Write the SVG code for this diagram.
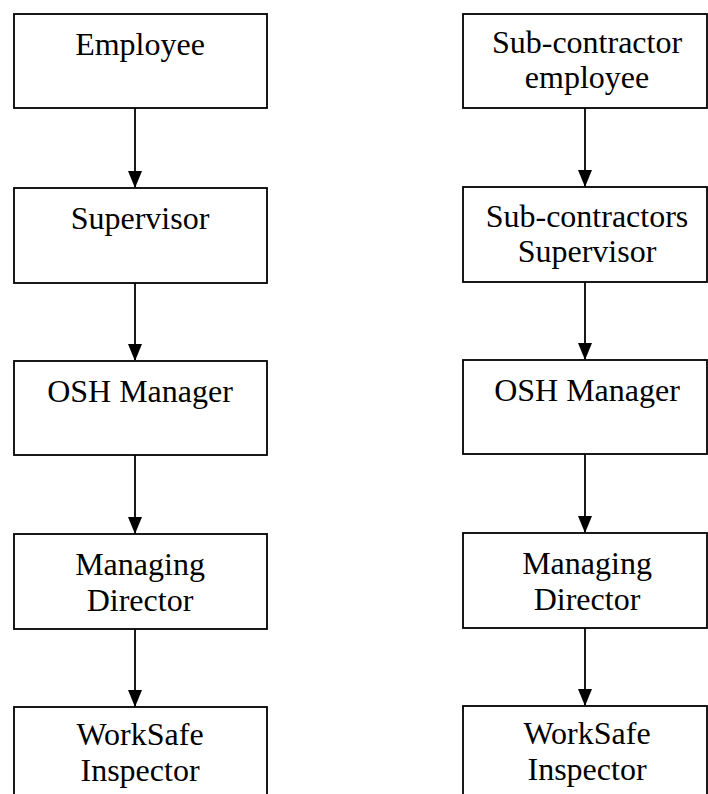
<svg xmlns="http://www.w3.org/2000/svg" width="708" height="794" viewBox="0 0 708 794">
<style>
.box{fill:#fff;stroke:#000;stroke-width:1.8}
.lbl{font-family:"Liberation Serif","Times New Roman",serif;font-size:32px;fill:#000;text-anchor:middle}
.con{stroke:#000;stroke-width:1.8;fill:none;marker-end:url(#ah)}
</style>
<defs>
<marker id="ah" markerUnits="userSpaceOnUse" markerWidth="17" markerHeight="15" refX="16" refY="7.5" orient="auto" viewBox="0 0 17 15">
<path d="M0,0.5 L17,7.5 L0,14.5 Z" fill="#000"/>
</marker>
</defs>
<rect width="708" height="794" fill="#fff"/>
<g id="connectors">
<line class="con" x1="135" y1="108" x2="135" y2="187"/>
<line class="con" x1="135" y1="283" x2="135" y2="360"/>
<line class="con" x1="135" y1="455" x2="135" y2="533"/>
<line class="con" x1="135" y1="629" x2="135" y2="706"/>
<line class="con" x1="585" y1="108" x2="585" y2="186"/>
<line class="con" x1="585" y1="282" x2="585" y2="359"/>
<line class="con" x1="585" y1="454" x2="585" y2="532"/>
<line class="con" x1="585" y1="628" x2="585" y2="705"/>
</g>
<g id="n-employee"><rect class="box" x="14" y="14" width="253" height="94"/><text class="lbl" x="140" y="55">Employee</text></g>
<g id="n-supervisor"><rect class="box" x="14" y="188" width="253" height="95"/><text class="lbl" x="140" y="229">Supervisor</text></g>
<g id="n-osh-left"><rect class="box" x="14" y="361" width="253" height="94"/><text class="lbl" x="140" y="402">OSH Manager</text></g>
<g id="n-md-left"><rect class="box" x="14" y="534" width="253" height="95"/><text class="lbl" x="140" y="575">Managing</text><text class="lbl" x="140" y="611">Director</text></g>
<g id="n-ws-left"><rect class="box" x="14" y="707" width="253" height="120"/><text class="lbl" x="140" y="745">WorkSafe</text><text class="lbl" x="140" y="781">Inspector</text></g>
<g id="n-sub-employee"><rect class="box" x="463" y="14" width="244" height="94"/><text class="lbl" x="587" y="53">Sub-contractor</text><text class="lbl" x="587" y="88">employee</text></g>
<g id="n-sub-supervisor"><rect class="box" x="463" y="187" width="244" height="95"/><text class="lbl" x="587" y="227">Sub-contractors</text><text class="lbl" x="587" y="262">Supervisor</text></g>
<g id="n-osh-right"><rect class="box" x="463" y="360" width="244" height="94"/><text class="lbl" x="587" y="401">OSH Manager</text></g>
<g id="n-md-right"><rect class="box" x="463" y="533" width="244" height="95"/><text class="lbl" x="587" y="574">Managing</text><text class="lbl" x="587" y="610">Director</text></g>
<g id="n-ws-right"><rect class="box" x="463" y="706" width="244" height="120"/><text class="lbl" x="587" y="744">WorkSafe</text><text class="lbl" x="587" y="780">Inspector</text></g>
</svg>
